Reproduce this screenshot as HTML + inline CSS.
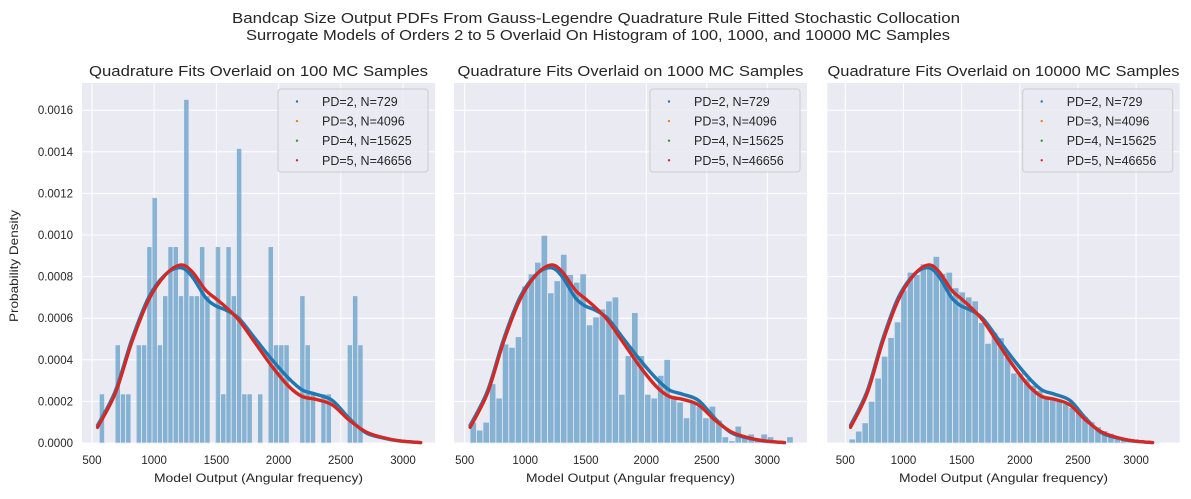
<!DOCTYPE html>
<html><head><meta charset="utf-8">
<style>
html,body{margin:0;padding:0;background:#fff;}
body{width:1191px;height:494px;overflow:hidden;font-family:"Liberation Sans","DejaVu Sans",sans-serif;}
text{font-family:"Liberation Sans","DejaVu Sans",sans-serif;fill:#262626;}
</style></head>
<body>
<svg id="chart" width="1191" height="494" xmlns="http://www.w3.org/2000/svg">
<text x="596" y="23" text-anchor="middle" font-size="14.5" textLength="728" lengthAdjust="spacingAndGlyphs">Bandcap Size Output PDFs From Gauss-Legendre Quadrature Rule Fitted Stochastic Collocation</text>
<text x="598" y="40" text-anchor="middle" font-size="14.5" textLength="704" lengthAdjust="spacingAndGlyphs">Surrogate Models of Orders 2 to 5 Overlaid On Histogram of 100, 1000, and 10000 MC Samples</text>
<text x="0" y="0" transform="translate(18,266) rotate(-90)" text-anchor="middle" font-size="12" textLength="112" lengthAdjust="spacingAndGlyphs">Probability Density</text>
</svg>
<script>
// ---- data ----
const xTicks = [500, 1000, 1500, 2000, 2500, 3000];
const yTicks = [0, 0.0002, 0.0004, 0.0006, 0.0008, 0.0010, 0.0012, 0.0014, 0.0016];
const yTickLabels = ["0.0000","0.0002","0.0004","0.0006","0.0008","0.0010","0.0012","0.0014","0.0016"];
const panelTitles = ["Quadrature Fits Overlaid on 100 MC Samples","Quadrature Fits Overlaid on 1000 MC Samples","Quadrature Fits Overlaid on 10000 MC Samples"];
const legendLabels = ["PD=2, N=729","PD=3, N=4096","PD=4, N=15625","PD=5, N=46656"];
const seriesColors = ["#1f77b4","#ff7f0e","#2ca02c","#d62728"];
const binStarts = [559, 544, 532];
const binWidths = [42.4, 53.4, 55.6];
const hist100 = [1,0,0,2,1,1,0,2,2,4,5,2,3,4,4,3,7,3,3,4,3,0,4,1,4,3,6,1,1,0,1,0,4,2,2,2,0,0,3,2,1,0,1,1,0,0,0,2,3,2].map(c=>c*0.000236);
const hist1000 = [0.000100,0.000062,0.000100,0.000285,0.000216,0.000476,0.000460,0.000511,0.000754,0.000813,0.000869,0.000998,0.000722,0.000780,0.000907,0.000810,0.000773,0.000813,0.000568,0.000606,0.000644,0.000683,0.000702,0.000234,0.000420,0.000627,0.000420,0.000234,0.000216,0.000325,0.000401,0.000224,0.000197,0.000121,0.000197,0.000177,0.000121,0.000177,0.000110,0.000030,0.000011,0.000081,0.000030,0.000043,0.000018,0.000043,0.000030,0,0,0.000030];
const hist10000 = [0.000019,0.000057,0.000097,0.000200,0.000312,0.000417,0.000507,0.000582,0.000735,0.000821,0.000810,0.000861,0.000850,0.000897,0.000815,0.000821,0.000746,0.000726,0.000702,0.000683,0.000579,0.000479,0.000531,0.000506,0.000415,0.000336,0.000336,0.000309,0.000277,0.000253,0.000221,0.000213,0.000205,0.000189,0.000170,0.000158,0.000126,0.000102,0.000078,0.000059,0.000046,0.000033,0.000027,0.000018,0.000011,0.000006,0.000003,0.000002];
const curveX = [545,688,822,956,1090,1213,1305,1412,1492,1573,1680,1814,1948,2083,2190,2297,2431,2565,2700,2834,2968,3142];
const pd2Y = [0.000085,0.00025,0.0005,0.0007,0.00081,0.000843,0.0008,0.0007,0.00066,0.00064,0.0006,0.0005,0.0004,0.00031,0.000255,0.000235,0.000205,0.00012,0.00005,0.000025,0.00001,0.000002];
const pd3Y = [0.000078,0.000241,0.000489,0.000689,0.000808,0.000855,0.000823,0.000735,0.000694,0.000655,0.000592,0.000481,0.00037,0.000274,0.000226,0.000212,0.000185,0.000113,0.000055,0.000027,0.000011,0.000002];
const pd4Y = [0.000076,0.00024,0.000488,0.000688,0.000808,0.000856,0.000824,0.000736,0.000696,0.000655,0.000591,0.000479,0.000367,0.000271,0.000223,0.00021,0.000183,0.000111,0.000054,0.000027,0.000011,0.000002];
const pd5Y = [0.000075,0.000239,0.000487,0.000688,0.000808,0.000856,0.000824,0.000736,0.000696,0.000655,0.000591,0.000479,0.000367,0.000271,0.000223,0.00021,0.000183,0.000111,0.000054,0.000027,0.000011,0.000002];
const allHists = [hist100, hist1000, hist10000];
const allCurves = [pd2Y, pd3Y, pd4Y, pd5Y];

// ---- layout ----
const NS = "http://www.w3.org/2000/svg";
const svg = document.getElementById('chart');
const panels = [
  {left:82, right:435, xmin:420, xmax:3257, titleW:339},
  {left:454, right:807, xmin:411.6, xmax:3328, titleW:346},
  {left:827.3, right:1179.7, xmin:345, xmax:3375, titleW:352}
];
const plotTop = 83, plotBottom = 443, ymax = 0.0002*(plotBottom-plotTop)/41.6;
function mk(tag, attrs, parent){ const e=document.createElementNS(NS,tag); for(const k in attrs) e.setAttribute(k,attrs[k]); (parent||svg).appendChild(e); return e; }
function smooth(pts){
  let d = `M${pts[0][0]},${pts[0][1]}`;
  for(let i=0;i<pts.length-1;i++){
    const p0=pts[Math.max(0,i-1)], p1=pts[i], p2=pts[i+1], p3=pts[Math.min(pts.length-1,i+2)];
    const c1=[p1[0]+(p2[0]-p0[0])/6, p1[1]+(p2[1]-p0[1])/6];
    const c2=[p2[0]-(p3[0]-p1[0])/6, p2[1]-(p3[1]-p1[1])/6];
    d += ` C${c1[0]},${c1[1]} ${c2[0]},${c2[1]} ${p2[0]},${p2[1]}`;
  }
  return d;
}

panels.forEach((p, pi) => {
  const xs = v => p.left + (v - p.xmin)/(p.xmax - p.xmin)*(p.right - p.left);
  const ys = v => plotBottom - v/ymax*(plotBottom - plotTop);
  const g = mk('g', {});
  
  
  const bg = mk('rect', {x:p.left, y:plotTop, width:p.right-p.left, height:plotBottom-plotTop, fill:'#eaeaf2'}, g);
  
  
  yTicks.forEach((t, i) => {
    const l = mk('line', {x1:p.left, x2:p.right, y1:ys(t), y2:ys(t), stroke:'#fff', 'stroke-width':1}, g);
    
    
    if (pi === 0) {
      const tx = mk('text', {x:p.left-9, y:ys(t)+4, 'text-anchor':'end', 'font-size':11.5}, svg);
      tx.textContent = yTickLabels[i];
      
      
    }
  });
  xTicks.forEach(t => {
    const l = mk('line', {x1:xs(t), x2:xs(t), y1:plotTop, y2:plotBottom, stroke:'#fff', 'stroke-width':1}, g);
    
    
    const tx = mk('text', {x:xs(t), y:plotBottom+21, 'text-anchor':'middle', 'font-size':11.5}, svg);
    tx.textContent = t;
    
    
  });
  const hist = allHists[pi];
  hist.forEach((v, i) => {
    if (v <= 0) return;
    const x0 = xs(binStarts[pi] + i*binWidths[pi]), x1 = xs(binStarts[pi] + (i+1)*binWidths[pi]);
    const r = mk('rect', {x:x0, y:ys(v), width:x1-x0, height:plotBottom-ys(v), fill:'#1f77b4', 'fill-opacity':0.5, stroke:'#eaeaf2', 'stroke-width':0.8}, g);
    
    
  });
  allCurves.forEach((cy, si) => {
    const pts = curveX.map((x, k) => [xs(x), ys(cy[k])]);
    const path = mk('path', {d:smooth(pts), fill:'none', stroke:seriesColors[si], 'stroke-width': si===0?3.4:(si===3?3.2:3), 'stroke-linecap':'round'}, g);
    
    
  });
  const tt = mk('text', {x:(p.left+p.right)/2, y:76, 'text-anchor':'middle', 'font-size':15, textLength:p.titleW, lengthAdjust:'spacingAndGlyphs'}, svg);
  tt.textContent = panelTitles[pi];
  
  
  const xl = mk('text', {x:(p.left+p.right)/2, y:482, 'text-anchor':'middle', 'font-size':12, textLength:209, lengthAdjust:'spacingAndGlyphs'}, svg);
  xl.textContent = 'Model Output (Angular frequency)';
  
  
  const lx = p.right - 157, ly = 89;
  const lg = mk('g', {}, svg);
  
  
  mk('rect', {x:lx, y:ly, width:150, height:83, rx:3, fill:'#eaeaf2', 'fill-opacity':0.8, stroke:'#cccccc', 'stroke-width':1}, lg);
  legendLabels.forEach((lab, k) => {
    const yy = ly + 12.5 + k*19.6;
    const dot = mk('circle', {cx:lx+19, cy:yy, r:1.2, fill:seriesColors[k]}, lg);
    
    
    const t = mk('text', {x:lx+44, y:yy+4.5, 'font-size':12.5}, lg);
    t.textContent = lab;
    
    
  });
});
</script>
</body></html>
